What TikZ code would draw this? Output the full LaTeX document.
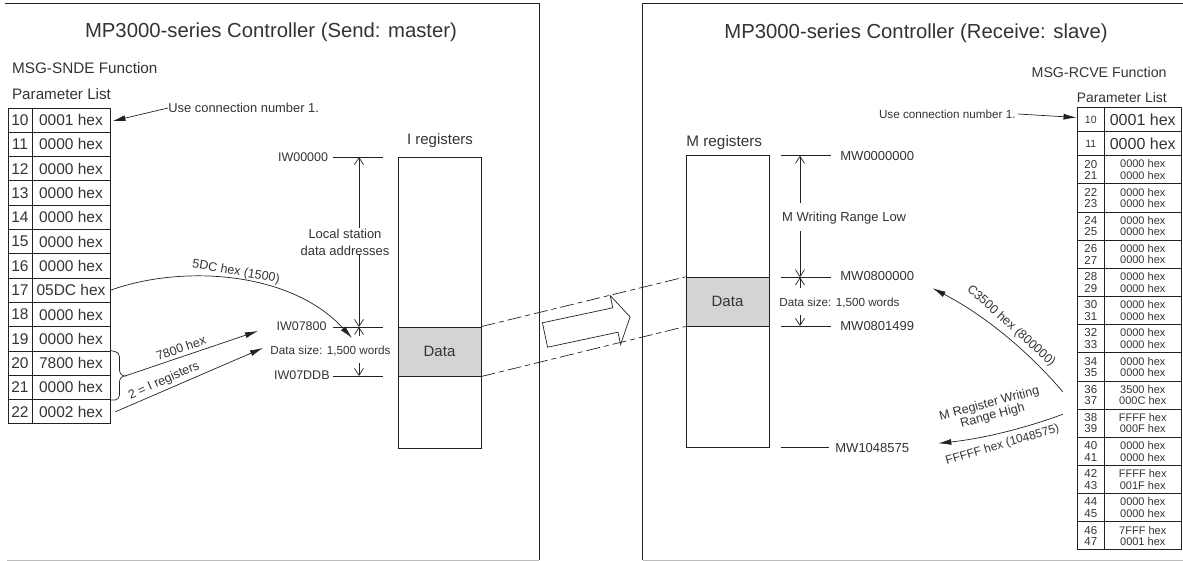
\documentclass[tikz,border=0pt]{standalone}
\usepackage{fontspec}
\setmainfont{Liberation Sans}
\usetikzlibrary{arrows.meta,calc}
\definecolor{txt}{HTML}{333333}
\definecolor{ln}{HTML}{222222}
\definecolor{datafill}{HTML}{D4D4D4}
\definecolor{framegray}{HTML}{BBBBBB}
\newcommand\fsz[1]{\fontsize{#1}{#1}\selectfont}
\newcommand\fszb[2]{\fontsize{#1}{#2}\selectfont}
\begin{document}
\begin{tikzpicture}[x=1pt,y=-1pt,line width=0.8pt,color=ln,text=txt,
  lbl/.style={inner sep=0pt,text=txt},
  ann/.style={-{Latex[length=13pt,width=6pt]},line width=0.7pt},
  dimarrow/.style={-{Straight Barb[length=7pt,width=9pt]},line width=0.7pt},
  cell/.style={draw=ln,line width=0.9pt,inner sep=0pt,align=center,text=txt},
  regbox/.style={draw=ln,line width=0.9pt,inner sep=0pt},
  dashc/.style={dash pattern=on 14pt off 4pt on 5pt off 4pt,line width=0.7pt}]
\useasboundingbox (0,0) rectangle (1183,561);
% frames
\draw[line width=1pt] (5,4) -- (539,4) -- (539,560);
\draw[framegray,line width=1pt] (7,560) -- (539,560);
\draw[line width=1pt] (642.7,560) -- (642.7,4) -- (1183,4);
\draw[framegray,line width=1pt] (642.7,560) -- (1183,560);
% titles
\node[lbl,font=\fsz{20.3}] (t1) at (271,32.5) {MP3000-series Controller (Send: master)};
\node[lbl,font=\fsz{20.3}] (t2) at (916,33) {MP3000-series Controller (Receive: slave)};
% left headings
\node[lbl,anchor=west,font=\fsz{15.3}] (f1) at (11.7,68) {MSG-SNDE Function};
\node[lbl,anchor=west,font=\fsz{15.2}] (p1) at (11.7,94) {Parameter List};
% left table
\foreach \na/\va [count=\i from 0] in {10/0001,11/0000,12/0000,13/0000,14/0000,15/0000,16/0000,17/05DC,18/0000,19/0000,20/7800,21/0000,22/0002}{
  \pgfmathsetmacro\yc{108+24.3*\i+12.15}
  \node[cell,minimum width=24pt,minimum height=24.3pt,font=\fsz{15.5}] (ln\na) at (20,\yc) {\na};
  \node[cell,minimum width=78pt,minimum height=24.3pt,font=\fsz{15.5}] (lv\na) at (71,\yc) {\va\ hex};
}
% right headings
\node[lbl,anchor=east,font=\fsz{14.2}] (f2) at (1167,72) {MSG-RCVE Function};
\node[lbl,anchor=east,font=\fsz{13.8}] (p2) at (1167,98) {Parameter List};
% right table
\node[cell,minimum width=27.5pt,minimum height=23.6pt,font=\fsz{10.5}] (rn10) at (1090.75,119.5) {10};
\node[cell,minimum width=76.5pt,minimum height=23.6pt,font=\fsz{16}] (rv10) at (1142.75,119.5) {0001 hex};
\node[cell,minimum width=27.5pt,minimum height=24.4pt,font=\fsz{10.5}] (rn11) at (1090.75,143.5) {11};
\node[cell,minimum width=76.5pt,minimum height=24.4pt,font=\fsz{16}] (rv11) at (1142.75,143.5) {0000 hex};
\foreach \pa/\pb/\qa/\qb [count=\k from 0] in {20/21/0000/0000,22/23/0000/0000,24/25/0000/0000,26/27/0000/0000,28/29/0000/0000,30/31/0000/0000,32/33/0000/0000,34/35/0000/0000,36/37/3500/000C,38/39/FFFF/000F,40/41/0000/0000,42/43/FFFF/001F,44/45/0000/0000,46/47/7FFF/0001}{
  \pgfmathsetmacro\yc{155.7+28.16*\k+14.08}
  \node[cell,minimum width=27.5pt,minimum height=28.16pt,font=\fszb{11.5}{11.5}] (rn\pa) at (1090.75,\yc) {\pa\\\pb};
  \node[cell,minimum width=76.5pt,minimum height=28.16pt,font=\fszb{11}{11.5}] (rv\pa) at (1142.75,\yc) {\qa\ hex\\\qb\ hex};
}
% I registers
\node[lbl,font=\fsz{15}] (ireg) at (440,141) {I registers};
\node[regbox,minimum width=83pt,minimum height=291pt] (ibox) at (439.5,302.5) {};
\node[regbox,fill=datafill,minimum width=83pt,minimum height=49pt,font=\fsz{15}] (idata) at (439.5,351.5) {Data};
% M registers
\node[lbl,anchor=west,font=\fsz{15.3}] (mreg) at (686,142.7) {M registers};
\node[regbox,minimum width=83pt,minimum height=292pt] (mbox) at (727.5,301.7) {};
\node[regbox,fill=datafill,minimum width=83pt,minimum height=48.7pt,font=\fsz{15}] (mdata) at (727.5,301.65) {Data};
% left dimension labels
\node[lbl,anchor=east,font=\fsz{12.5}] (iw0) at (328.5,157) {IW00000};
\node[lbl,anchor=east,font=\fsz{12.5}] (iw78) at (327,326.5) {IW07800};
\node[lbl,anchor=east,font=\fsz{12.5}] (iw7d) at (330,375.5) {IW07DDB};
\draw (333,157) -- (383,157);
\draw (333,327) -- (383,327);
\draw (333,376) -- (383,376);
\node[lbl,align=center,font=\fszb{13}{16.4}] (lsda) at (345,242.5) {Local station\\data addresses};
\node[lbl,font=\fsz{11.7}] (dsl) at (330.5,351) {Data size: 1,500 words};
\draw[dimarrow] (359,228) -- (359,157);
\draw[dimarrow] (359,254) -- (359,327);
\draw[dimarrow] (359,336) -- (359,327);
\draw[dimarrow] (359,363) -- (359,376);
% right dimension labels
\node[lbl,anchor=west,font=\fsz{13}] (mw0) at (840,155.7) {MW0000000};
\node[lbl,anchor=west,font=\fsz{13}] (mw8) at (840,276) {MW0800000};
\node[lbl,anchor=west,font=\fsz{13}] (mw81) at (840,326) {MW0801499};
\node[lbl,anchor=west,font=\fsz{13}] (mw1) at (835,448) {MW1048575};
\draw (781,155.7) -- (830.7,155.7);
\draw (781,277.3) -- (830.7,277.3);
\draw (781,326) -- (830.7,326);
\draw (781,447.7) -- (829,447.7);
\node[lbl,anchor=west,font=\fsz{13}] (mwrl) at (781.7,218.3) {M Writing Range Low};
\node[lbl,anchor=west,font=\fsz{11.7}] (dsr) at (779,302.7) {Data size: 1,500 words};
\draw[dimarrow] (800,203) -- (800,155.7);
\draw[dimarrow] (800,231) -- (800,277.3);
\draw[dimarrow] (800,288) -- (800,277.3);
\draw[dimarrow] (800,315) -- (800,326);
% transfer dashed lines and hollow arrow
\draw[dashc] (idata.north east) -- (mdata.north west);
\draw[dashc] (idata.south east) -- (mdata.south west);
\draw[line width=0.7pt,fill=white] (542.4,322.8) -- (612.8,307.8) -- (610.2,295.5) -- (630.1,316.9) -- (620.6,344.5) -- (618,332.2) -- (547.6,347.2) -- cycle;
% left annotations
\node[lbl,anchor=west,font=\fsz{12.9}] (uc1) at (168,108) {Use connection number 1.};
\draw[ann] (uc1.west) -- ([xshift=2pt,yshift=-1pt]lv10.east);
\coordinate (c5dc) at (352,338);
\draw[ann] (lv17.east) .. controls (180,265) and (290,270) .. (c5dc);
\node[lbl,font=\fsz{12.5},rotate=-10] (l5dc) at (236,272) {5DC hex (1500)};
\draw[line width=0.7pt] (lv20.north east) -- (115,351.6) to[out=0,in=90] (119.5,357) -- (119.5,370) to[out=-90,in=180] (125,376) to[out=180,in=90] (119.5,382) -- (119.5,395) to[out=-90,in=0] (115,400) -- (lv21.south east);
\coordinate (brtip) at (125,376);
\coordinate (c7800) at (258,331);
\draw[ann] (brtip) -- (c7800);
\node[lbl,font=\fsz{12.5},rotate=19] (l7800) at (181,348) {7800 hex};
\coordinate (cireg) at (263,348);
\draw[ann] ([xshift=5pt]lv22.east) -- (cireg);
\node[lbl,font=\fsz{12.5},rotate=24] (lireg) at (164,381) {2 = I registers};
% right annotations
\node[lbl,anchor=east,font=\fsz{11.7}] (uc2) at (1016,114) {Use connection number 1.};
\draw[ann] ([xshift=2pt]uc2.east) -- ([yshift=2pt]rn10.west);
\coordinate (c35s) at (1062.7,391.7);
\coordinate (c35e) at (932.7,288.3);
\draw[ann] (c35s) .. controls (1026.1,348.8) and (982.7,314.4) .. (c35e);
\node[lbl,font=\fsz{12.5},rotate=-42] (l35) at (1011,326) {C3500 hex (800000)};
\coordinate (cffs) at (1062.7,414.3);
\coordinate (cffe) at (938.3,443.3);
\draw[ann] (cffs) .. controls (1022.4,429.2) and (980.9,438.8) .. (cffe);
\node[lbl,align=center,font=\fszb{12.5}{12.5},rotate=15] (lmrh) at (991,410) {M Register Writing\\Range High};
\node[lbl,font=\fsz{12},rotate=16] (lfff) at (1002.5,445) {FFFFF hex (1048575)};
\end{tikzpicture}
\end{document}
